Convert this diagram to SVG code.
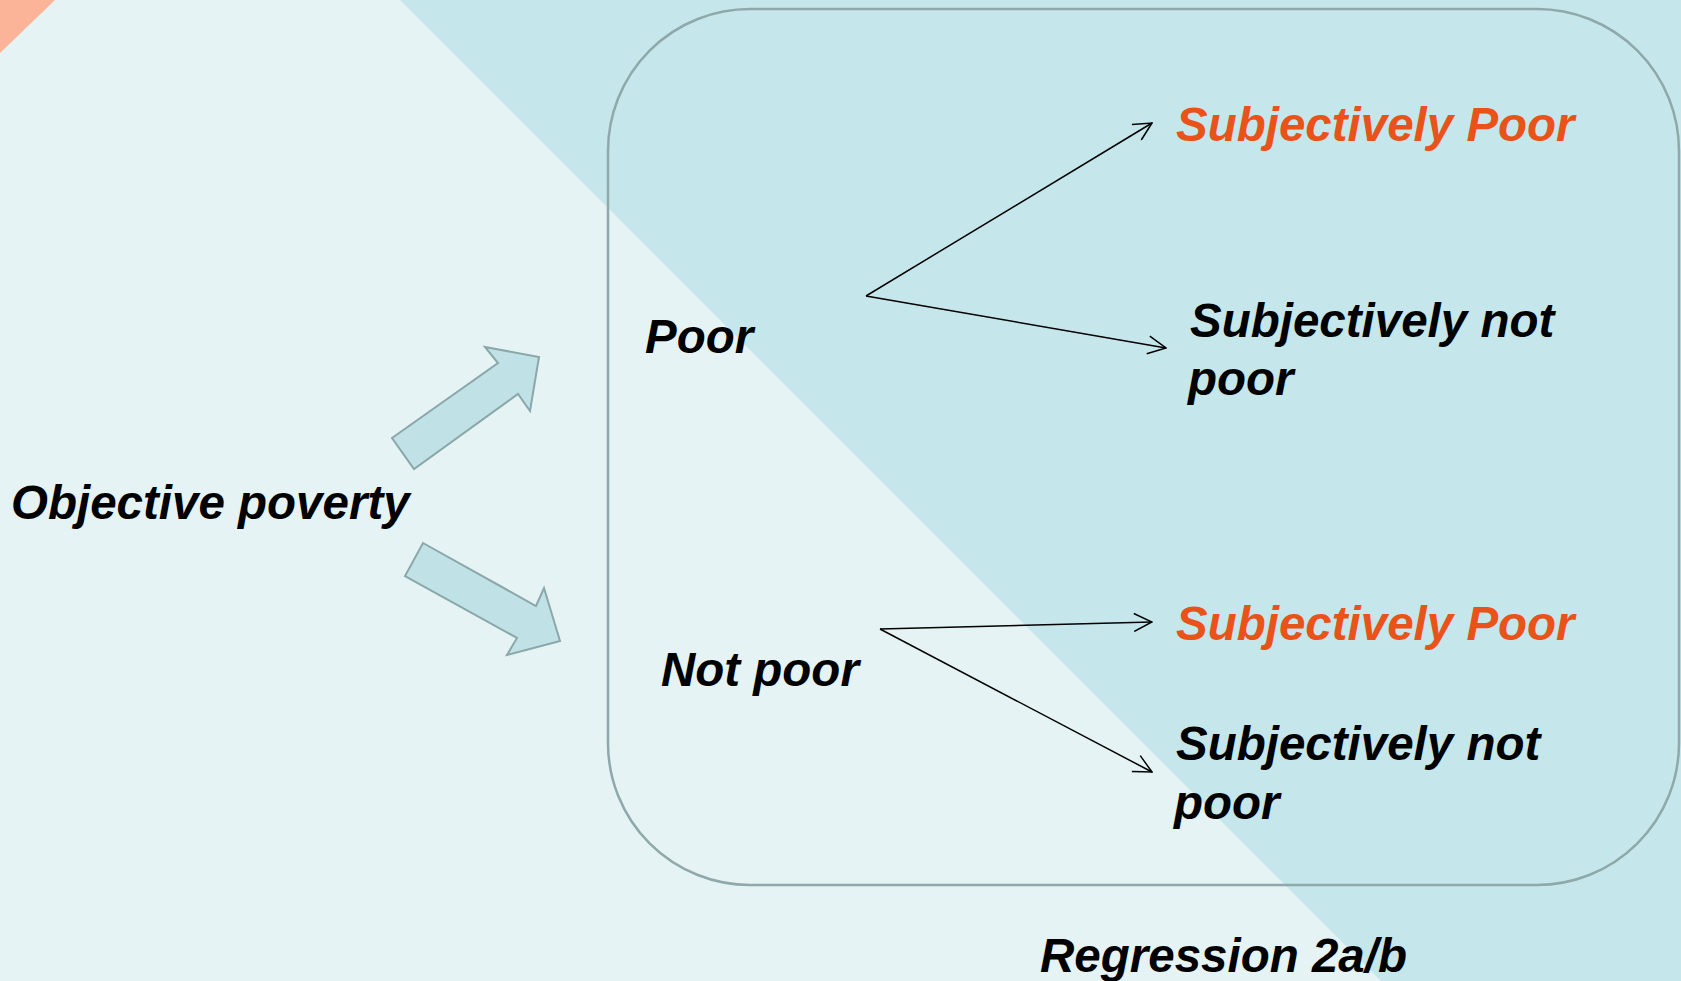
<svg xmlns="http://www.w3.org/2000/svg" width="1681" height="981" viewBox="0 0 1681 981">
<defs>
<style>
.t{font-family:"Liberation Sans",Arial,sans-serif;font-weight:bold;font-style:italic;font-size:47.5px;fill:#000}
.o{fill:#e9531a}
.blk{fill:#c0e2e6;stroke:#8aa7a9;stroke-width:2}
.ln{fill:none;stroke:#000;stroke-width:1.5}
</style>
<marker id="ah" viewBox="0 0 20 20" refX="19" refY="10" markerWidth="20" markerHeight="20" markerUnits="userSpaceOnUse" orient="auto">
<path d="M1,1 L19,10 L1,19" fill="none" stroke="#000" stroke-width="1.5"/>
</marker>
</defs>
<g id="background">
<rect x="0" y="0" width="1681" height="981" fill="#e5f3f4"/>
<polygon points="400,0 1681,0 1681,981 1381,981" fill="#c5e7eb"/>
<polygon points="0,0 55,0 0,53" fill="#fbb497"/>
</g>
<g id="frame">
<rect x="608" y="9" width="1071" height="876" rx="142" ry="142" fill="none" stroke="#8fa8aa" stroke-width="2.5"/>
</g>
<g id="objective"><text class="t" x="11" y="519">Objective poverty</text></g>
<g id="block-arrows">
<polygon class="blk" points="392,438 498,363 485,347 539,357 530,411 518,394 414,469"/>
<polygon class="blk" points="423,543 536,606 544,588 560,641 507,655 517,638 405,576"/>
</g>
<g id="poor"><text class="t" x="645" y="353">Poor</text></g>
<g id="notpoor"><text class="t" x="661" y="686">Not poor</text></g>
<g id="sp1"><text class="t o" x="1176" y="141">Subjectively Poor</text></g>
<g id="snp1"><text class="t" x="1190" y="337">Subjectively not</text><text class="t" x="1188" y="395">poor</text></g>
<g id="sp2"><text class="t o" x="1176" y="640">Subjectively Poor</text></g>
<g id="snp2"><text class="t" x="1176" y="760">Subjectively not</text><text class="t" x="1174" y="819">poor</text></g>
<g id="regression"><text class="t" x="1040" y="972">Regression 2a/b</text></g>
<g id="connectors">
<line class="ln" x1="866" y1="296" x2="1152" y2="123" marker-end="url(#ah)"/>
<line class="ln" x1="866" y1="296" x2="1166" y2="348" marker-end="url(#ah)"/>
<line class="ln" x1="880" y1="629" x2="1152" y2="622" marker-end="url(#ah)"/>
<line class="ln" x1="880" y1="629" x2="1152" y2="772" marker-end="url(#ah)"/>
</g>
</svg>
